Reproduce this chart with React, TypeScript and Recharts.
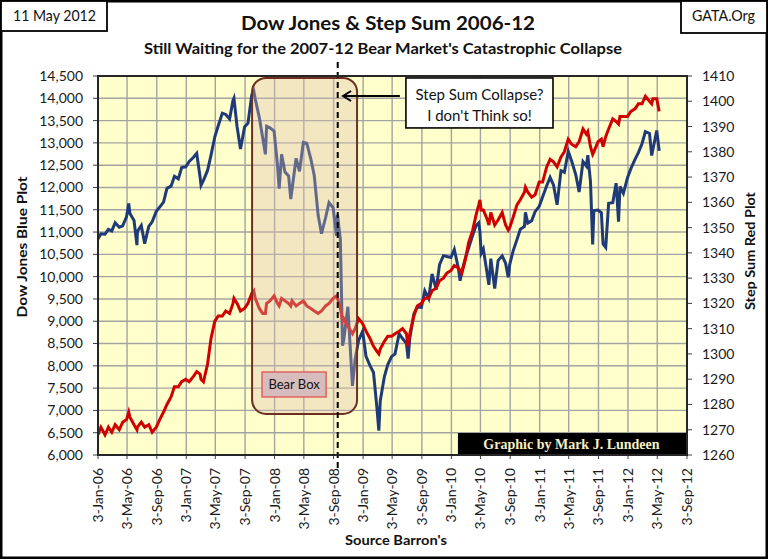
import React from 'react';
import { LineChart, Line, XAxis, YAxis, CartesianGrid, ReferenceArea, ReferenceLine } from 'recharts';

const dates = [
  '2006-01-03','2006-01-15','2006-02-01','2006-02-15','2006-03-01','2006-03-15','2006-04-01','2006-04-15','2006-05-01','2006-05-10','2006-05-15','2006-06-01','2006-06-13','2006-06-15','2006-07-01','2006-07-15','2006-08-01','2006-08-15','2006-09-01','2006-09-15','2006-10-01','2006-10-15','2006-11-01','2006-11-15','2006-12-01','2006-12-15',
  '2007-01-01','2007-01-15','2007-02-01','2007-02-15','2007-03-01','2007-03-05','2007-03-15','2007-04-01','2007-04-15','2007-05-01','2007-05-15','2007-06-01','2007-06-15','2007-07-01','2007-07-15','2007-07-19','2007-08-01','2007-08-15','2007-09-01','2007-09-15','2007-10-01','2007-10-09','2007-10-15','2007-11-01','2007-11-15','2007-11-26','2007-12-01','2007-12-15',
  '2008-01-01','2008-01-15','2008-01-22','2008-02-01','2008-02-15','2008-03-01','2008-03-10','2008-03-15','2008-04-01','2008-04-15','2008-05-01','2008-05-15','2008-06-01','2008-06-15','2008-07-01','2008-07-15','2008-08-01','2008-08-15','2008-09-01','2008-09-15','2008-09-19','2008-10-01','2008-10-10','2008-10-15','2008-11-01','2008-11-20','2008-12-01','2008-12-15',
  '2009-01-01','2009-01-15','2009-02-01','2009-02-15','2009-03-01','2009-03-09','2009-03-15','2009-04-01','2009-04-15','2009-05-01','2009-05-15','2009-06-01','2009-06-15','2009-07-01','2009-07-08','2009-07-15','2009-08-01','2009-08-15','2009-09-01','2009-09-15','2009-10-01','2009-10-15','2009-11-01','2009-11-15','2009-12-01','2009-12-15',
  '2010-01-01','2010-01-15','2010-02-01','2010-02-08','2010-02-15','2010-03-01','2010-03-15','2010-04-01','2010-04-15','2010-04-26','2010-05-01','2010-05-06','2010-05-15','2010-06-01','2010-06-07','2010-06-15','2010-07-01','2010-07-15','2010-08-01','2010-08-15','2010-08-26','2010-09-01','2010-09-15','2010-10-01','2010-10-15','2010-11-01','2010-11-05','2010-11-15','2010-12-01','2010-12-15',
  '2011-01-01','2011-01-15','2011-02-01','2011-02-15','2011-03-01','2011-03-16','2011-04-01','2011-04-15','2011-05-01','2011-05-15','2011-06-01','2011-06-15','2011-07-01','2011-07-15','2011-07-21','2011-08-01','2011-08-10','2011-08-15','2011-09-01','2011-09-15','2011-09-22','2011-10-03','2011-10-15','2011-11-01','2011-11-15','2011-11-25','2011-12-01','2011-12-15',
  '2012-01-01','2012-01-15','2012-02-01','2012-02-15','2012-03-01','2012-03-15','2012-04-01','2012-04-10','2012-04-15','2012-05-01','2012-05-11',
];

const dow = [
  10847,10960,10953,11058,11025,11209,11109,11138,11343,11640,11418,11260,10706,11015,11150,10740,11125,11230,11464,11560,11670,11980,12030,12251,12194,12446,
  12463,12582,12673,12765,12234,12050,12159,12382,12720,13136,13383,13668,13639,13535,13951,14000,13362,12861,13357,13442,14087,14164,13984,13567,13110,12743,13371,13339,
  13265,12501,11971,12743,12348,12258,11740,11951,12654,12362,13010,12992,12638,12269,11382,10963,11326,11659,11544,10918,11388,10831,8451,8578,9325,7552,8149,8565,
  8776,8212,8000,7850,7062,6547,7217,7761,8029,8212,8268,8721,8612,8504,8163,8616,9171,9321,9310,9683,9509,10062,9713,10270,10471,10452,
  10428,10610,10185,9908,10100,10403,10642,10927,11145,11205,11009,10520,10620,10025,9816,10404,9732,10359,10466,10303,9986,10270,10573,10830,11062,11124,11444,11201,11256,11457,
  11578,11787,12040,12226,12058,11613,12377,12342,12810,12595,12290,11897,12582,12480,12724,12132,10720,11483,11494,11433,10733,10655,11644,11658,12096,11231,12021,11868,
  12218,12422,12632,12781,12980,13253,13212,12716,12850,13279,12820,
];

const stepSum = [
  1268,1271,1268,1271,1269,1272,1270,1273,1274,1277,1275,1272,1270,1271,1273,1271,1272,1269,1271,1274,1277,1280,1283,1287,1287,1289,
  1290,1289,1291,1293,1292,1290,1289,1296,1306,1313,1315,1315,1317,1316,1320,1322,1320,1317,1318,1320,1324,1325,1322,1318,1316,1316,1320,1321,
  1323,1320,1319,1322,1321,1320,1319,1321,1319,1320,1321,1319,1318,1317,1316,1317,1319,1320,1322,1323,1322,1318,1313,1314,1311,1308,1310,1314,
  1312,1309,1306,1303,1301,1300,1302,1305,1307,1307,1308,1309,1310,1308,1303,1308,1315,1319,1320,1322,1322,1325,1326,1329,1330,1332,
  1333,1335,1334,1333,1332,1337,1344,1349,1355,1359,1361,1357,1357,1353,1351,1356,1351,1353,1356,1351,1349,1350,1354,1359,1361,1364,1366,1364,1362,1363,
  1368,1368,1374,1377,1376,1374,1378,1380,1385,1383,1382,1384,1389,1387,1388,1382,1379,1380,1384,1385,1382,1386,1389,1393,1392,1391,1394,1394,
  1394,1396,1397,1399,1399,1402,1400,1399,1401,1401,1396,
];

const xTickDates = [
  '2006-01-03','2006-05-03','2006-09-03','2007-01-03','2007-05-03','2007-09-03','2008-01-03',
  '2008-05-03','2008-09-03','2009-01-03','2009-05-03','2009-09-03','2010-01-03','2010-05-03',
  '2010-09-03','2011-01-03','2011-05-03','2011-09-03','2012-01-03','2012-05-03','2012-09-03',
];
const dowTicks = [6000,6500,7000,7500,8000,8500,9000,9500,10000,10500,11000,11500,12000,12500,13000,13500,14000,14500];
const stepTicks = [1260,1270,1280,1290,1300,1310,1320,1330,1340,1350,1360,1370,1380,1390,1400,1410];

const MONTHS = ['Jan','Feb','Mar','Apr','May','Jun','Jul','Aug','Sep','Oct','Nov','Dec'];
const ts = (s: string) => new Date(s + 'T00:00:00Z').getTime();
const fmtDate = (t: number) => {
  const d = new Date(t);
  return `${d.getUTCDate()}-${MONTHS[d.getUTCMonth()]}-${String(d.getUTCFullYear()).slice(2)}`;
};

const data = dates.map((d, i) => ({ t: ts(d), dow: dow[i], step: stepSum[i] }));

const FONT = "Lato, 'Open Sans', sans-serif";

const XTick = (props: any) => {
  const { x, y, payload } = props;
  return (
    <text
      transform={`translate(${x + 5},${y}) rotate(-90)`}
      textAnchor="end"
      fontSize={14}
      fill="#1a1a1a"
      fontFamily={FONT}
    >
      {fmtDate(payload.value)}
    </text>
  );
};

const BearBox = (p: any) => (
  <rect x={p.x} y={p.y} width={p.width} height={p.height} rx={14} ry={14}
    fill="#dcbcb0" fillOpacity={0.36} stroke="#6e2f22" strokeWidth={2} />
);

const BearLabel = (p: any) => (
  <g>
    <rect x={p.x} y={p.y} width={p.width} height={p.height} fill="#d6bcbc" stroke="#e04848" strokeWidth={1.2} />
    <text x={p.x + p.width / 2} y={p.y + p.height / 2 + 4.5} textAnchor="middle" fontSize={13} fill="#111" fontFamily={FONT}>Bear Box</text>
  </g>
);

const NoteBox = (p: any) => (
  <g>
    <rect x={p.x} y={p.y} width={p.width} height={p.height} fill="#ffffff" stroke="#000" strokeWidth={1.6} />
    <text x={p.x + p.width / 2} y={p.y + 22} textAnchor="middle" fontSize={15} fill="#111" fontFamily={FONT}>Step Sum Collapse?</text>
    <text x={p.x + p.width / 2} y={p.y + 43} textAnchor="middle" fontSize={15} fill="#111" fontFamily={FONT}>I don't Think so!</text>
  </g>
);

const CreditBox = (p: any) => (
  <g>
    <rect x={p.x} y={p.y} width={p.width} height={p.height} fill="#000" />
    <text x={p.x + p.width / 2 - 1} y={p.y + p.height / 2 + 5} textAnchor="middle" fontSize={14} fontWeight="bold"
      fill="#f6efc6" fontFamily="'Liberation Serif', 'DejaVu Serif', serif">Graphic by Mark J. Lundeen</text>
  </g>
);

const DashLine = (p: any) => {
  const top = Math.min(p.y1, p.y2);
  const bottom = Math.max(p.y1, p.y2);
  return <line x1={p.x1} x2={p.x2} y1={top - 14} y2={bottom + 16} stroke="#000" strokeWidth={2} strokeDasharray="6 4" />;
};

const Arrow = (p: any) => {
  const xl = Math.min(p.x1, p.x2);
  const xr = Math.max(p.x1, p.x2);
  const y = p.y1;
  return (
    <g>
      <line x1={xl + 1} x2={xr} y1={y} y2={y} stroke="#000" strokeWidth={2} />
      <polyline points={`${xl + 8},${y - 5} ${xl},${y} ${xl + 8},${y + 5}`} fill="none" stroke="#000" strokeWidth={2} />
    </g>
  );
};

export default function App() {
  return (
    <div style={{ position: 'absolute', left: 0, top: 0, width: 768, height: 559, background: '#fff', overflow: 'hidden' }}>
      <LineChart width={768} height={559} data={data} margin={{ top: 76, right: 0, left: 0, bottom: 0 }}>
        <CartesianGrid yAxisId="left" stroke="#a3a3a3" strokeWidth={1.4} fill="#FFFFCC" fillOpacity={1} />
        <XAxis
          dataKey="t" type="number" domain={[ts('2006-01-03'), ts('2012-09-03')]}
          ticks={xTickDates.map(ts)} interval={0} height={104}
          tick={<XTick />} tickSize={4} tickMargin={9}
          axisLine={{ stroke: '#404040', strokeWidth: 2 }} tickLine={{ stroke: '#404040' }}
          allowDataOverflow
        />
        <YAxis
          yAxisId="left" orientation="left" width={98} domain={[6000, 14500]} ticks={dowTicks} interval={0}
          tickFormatter={(v: number) => v.toLocaleString('en-US')}
          tick={{ fontSize: 14, fill: '#1a1a1a', fontFamily: FONT }} tickSize={5} tickMargin={10}
          axisLine={{ stroke: '#404040', strokeWidth: 2 }} tickLine={{ stroke: '#404040' }}
          allowDataOverflow
        />
        <YAxis
          yAxisId="right" orientation="right" width={81} domain={[1260, 1410]} ticks={stepTicks} interval={0}
          tick={{ fontSize: 14, fill: '#1a1a1a', fontFamily: FONT }} tickSize={5} tickMargin={10}
          axisLine={{ stroke: '#404040', strokeWidth: 2 }} tickLine={{ stroke: '#404040' }}
          allowDataOverflow
        />
        <Line yAxisId="left" dataKey="dow" type="linear" stroke="#1f3a78" strokeWidth={3} dot={false} isAnimationActive={false} />
        <Line yAxisId="right" dataKey="step" type="linear" stroke="#d00000" strokeWidth={3} dot={false} isAnimationActive={false} />
        <ReferenceArea yAxisId="left" x1={ts('2007-10-02')} x2={ts('2008-12-09')} y1={6920} y2={14456}
          shape={BearBox} ifOverflow="visible" zIndex={450} />
        <ReferenceArea yAxisId="left" x1={ts('2007-11-12')} x2={ts('2008-08-03')} y1={7301} y2={7862}
          shape={BearLabel} ifOverflow="visible" zIndex={460} />
        <ReferenceArea yAxisId="left" x1={ts('2009-06-29')} x2={ts('2011-02-27')} y1={13335} y2={14456}
          shape={NoteBox} ifOverflow="visible" zIndex={460} />
        <ReferenceArea yAxisId="left" x1={ts('2010-01-30')} x2={ts('2012-09-03')} y1={6000} y2={6493}
          shape={CreditBox} ifOverflow="visible" zIndex={460} />
        <ReferenceLine yAxisId="left" x={ts('2008-09-20')} shape={DashLine} ifOverflow="visible" zIndex={470} />
        <ReferenceLine yAxisId="left" segment={[{ x: ts('2008-10-12'), y: 14052 }, { x: ts('2009-06-04'), y: 14052 }]}
          shape={Arrow} ifOverflow="visible" zIndex={470} />
      </LineChart>
      <svg width={768} height={559} style={{ position: 'absolute', left: 0, top: 0, pointerEvents: 'none' }}>
        <rect x={98} y={76} width={589} height={379} fill="none" stroke="#262626" strokeWidth={2} />
        <rect x={1.25} y={1.25} width={765.5} height={556.5} fill="none" stroke="#000" strokeWidth={2.5} />
        <rect x={1} y={1} width={106} height={30} fill="#fff" stroke="#000" strokeWidth={1.8} />
        <text x={54.5} y={21} textAnchor="middle" fontSize={15} fill="#111" fontFamily={FONT} textLength={83} lengthAdjust="spacingAndGlyphs">11 May 2012</text>
        <rect x={681} y={1} width={86} height={32} fill="#fff" stroke="#000" strokeWidth={1.8} />
        <text x={723.5} y={21} textAnchor="middle" fontSize={15} fill="#111" fontFamily={FONT} textLength={63} lengthAdjust="spacingAndGlyphs">GATA.Org</text>
        <text x={388} y={29.5} textAnchor="middle" fontSize={19} fontWeight="bold" fill="#111" fontFamily={FONT} textLength={294} lengthAdjust="spacingAndGlyphs">Dow Jones &amp; Step Sum 2006-12</text>
        <text x={383} y={54} textAnchor="middle" fontSize={15} fontWeight="bold" fill="#111" fontFamily={FONT} textLength={478} lengthAdjust="spacingAndGlyphs">Still Waiting  for the 2007-12 Bear Market's  Catastrophic  Collapse</text>
        <text transform="translate(27,247) rotate(-90)" textAnchor="middle" fontSize={14} fontWeight="bold" fill="#111" fontFamily={FONT} textLength={141} lengthAdjust="spacingAndGlyphs">Dow Jones Blue Plot</text>
        <text transform="translate(755,251) rotate(-90)" textAnchor="middle" fontSize={14} fontWeight="bold" fill="#111" fontFamily={FONT} textLength={118} lengthAdjust="spacingAndGlyphs">Step Sum Red Plot</text>
        <text x={396} y={544.5} textAnchor="middle" fontSize={14} fontWeight="bold" fill="#111" fontFamily={FONT} textLength={102} lengthAdjust="spacingAndGlyphs">Source Barron's</text>
      </svg>
    </div>
  );
}
